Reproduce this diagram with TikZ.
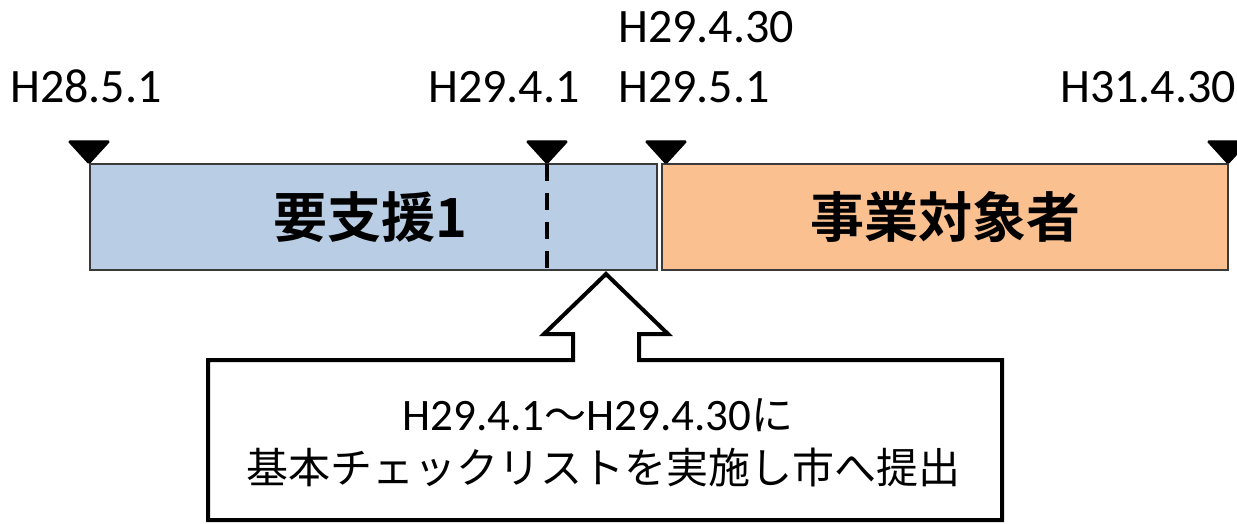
\documentclass[tikz,border=0pt]{standalone}
\usepackage{fontspec}
\setmainfont{Carlito}
\newfontfamily\jp[BoldFont={Noto Sans CJK JP Bold}]{Noto Sans CJK JP}
\definecolor{boxblue}{HTML}{B9CDE5}
\definecolor{boxorange}{HTML}{FAC090}
\definecolor{edge}{HTML}{3A3A3A}
\begin{document}
\begin{tikzpicture}[x=1pt,y=-1pt,
  period/.style={draw=edge,line width=1.6pt,inner sep=0pt,anchor=north west},
  marker/.style={fill=black,draw=black,line width=1pt,rounded corners=1.5pt,line join=round},
  datelabel/.style={inner sep=0pt,anchor=base west,font=\fontsize{48}{52}\selectfont},
  boldtext/.style={inner sep=0pt,font=\jp\bfseries\fontsize{54}{60}\selectfont},
  calltext/.style={inner sep=0pt,anchor=base,font=\fontsize{45}{50}\selectfont},
  callout/.style={draw=black,line width=4pt,line join=miter,fill=white}]
\useasboundingbox (0,0) rectangle (1237,524);
% period boxes
\node[period,fill=boxblue,minimum width=567pt,minimum height=106pt] (blue) at (89,163) {};
\node[period,fill=boxorange,minimum width=566pt,minimum height=106pt] (orange) at (661,163) {};
\node[boldtext] (t1) at ([xshift=-3pt]blue.center) {要支援1};
\node[boldtext] (t2) at ([xshift=1pt]orange.center) {事業対象者};
% dashed split
\coordinate (d1) at (547,164);
\coordinate (d2) at (547,269);
\draw[line width=3.5pt,dash pattern=on 17pt off 12pt] (d1) -- (d2);
% markers
\foreach \x/\n in {89/m1,547/m2,666/m3,1228/m4}{
  \fill[marker] (\x,164) -- (\x-21,141) -- (\x+21,141) -- cycle;
}
% date labels
\node[datelabel] (l1) at (10,103) {H28.5.1};
\node[datelabel] (l2) at (428,103) {H29.4.1};
\node[datelabel] (l3) at (618,43) {H29.4.30};
\node[datelabel] (l4) at (618,103) {H29.5.1};
\node[datelabel] (l5) at (1060,103) {H31.4.30};
% callout
\draw[callout] (208,360) -- (573,360) -- (573,334) -- (544,334) -- (606,274)
  -- (668,334) -- (639,334) -- (639,360) -- (1002,360) -- (1002,520)
  -- (208,520) -- cycle;
\node[calltext] (c1) at (598,430) {H29.4.1{\jp\fontsize{42}{50}\selectfont ～}H29.4.30{\jp\fontsize{42}{50}\selectfont に}};
\node[calltext,font=\jp\fontsize{42}{50}\selectfont] (c2) at (603,483) {基本チェックリストを実施し市へ提出};
\end{tikzpicture}
\end{document}
